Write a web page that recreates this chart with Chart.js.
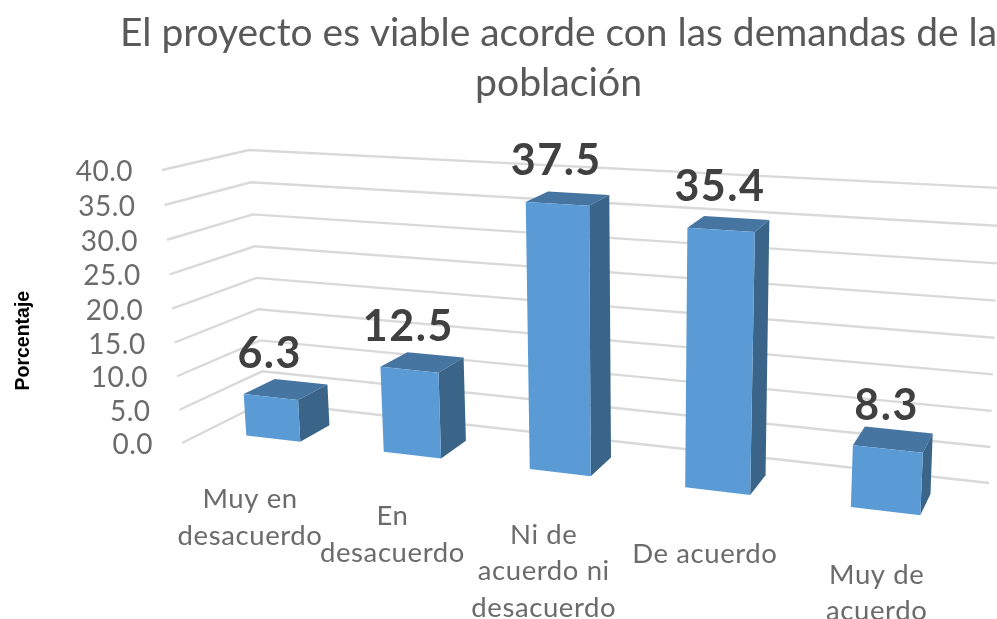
<!DOCTYPE html>
<html>
<head>
<meta charset="utf-8">
<title>Proyecto viable</title>
<script src="https://cdn.jsdelivr.net/npm/chart.js@4/dist/chart.umd.js"></script>
<style>
    html, body { margin: 0; padding: 0; background: #fff; }
    #wrap { width: 997px; height: 619px; overflow: hidden; }
</style>
</head>
<body>
<div id="wrap"><canvas id="chart" width="997" height="619"></canvas></div>
<script>
const categories = [
    ['Muy en', 'desacuerdo'],
    ['En', 'desacuerdo'],
    ['Ni de', 'acuerdo ni', 'desacuerdo'],
    ['De acuerdo'],
    ['Muy de', 'acuerdo']
];
const values = [6.3, 12.5, 37.5, 35.4, 8.3];
const titleLines = ['El proyecto es viable acorde con las demandas de la', 'población'];
const yTitle = 'Porcentaje';

// corners of the 3d box on screen: [front/back][left/right][floor/top]
const box = {
    fl0: [182, 443], fl1: [162, 170],
    bl0: [264, 402], bl1: [249, 150],
    fr0: [967, 538], fr1: [984, 220],
    br0: [989, 483], br1: [1000, 188]
};
const depthFront = 0.30;
const depthBack = 0.69;

function warp(t, k) {
    return t / (t + k * (1 - t));
}

function mix(a, b, t) {
    return [a[0] + (b[0] - a[0]) * t, a[1] + (b[1] - a[1]) * t];
}

// w, v, d all run 0..1: across the categories, up the value axis, into the depth
function project(w, v, d) {
    const u = warp(w, 1.17);
    const h = warp(v, 1.03);
    const front = mix(mix(box.fl0, box.fl1, h), mix(box.fr0, box.fr1, h), u);
    const back = mix(mix(box.bl0, box.bl1, h), mix(box.br0, box.br1, h), u);
    return mix(front, back, d);
}

function normX(chart, px) {
    const s = chart.scales.x;
    return (px - s.left) / s.width;
}

function normY(chart, px) {
    const s = chart.scales.y;
    return (s.bottom - px) / s.height;
}

function face(ctx, pts, color) {
    ctx.beginPath();
    pts.forEach((p, i) => i ? ctx.lineTo(p[0], p[1]) : ctx.moveTo(p[0], p[1]));
    ctx.closePath();
    ctx.fillStyle = color;
    ctx.fill();
}

// bars keep their place from the library's scales, only the painting is 3d
Chart.BarElement.prototype.draw = function (ctx) {
    const chart = this.$chart3d;
    if (!chart) return;
    const { x, y, base, width } = this.getProps(['x', 'y', 'base', 'width']);
    const w0 = normX(chart, x - width / 2);
    const w1 = normX(chart, x + width / 2);
    const v0 = normY(chart, base);
    const v1 = normY(chart, y);
    const d0 = depthFront;
    const d1 = depthBack;
    face(ctx, [project(w0, v1, d0), project(w1, v1, d0), project(w1, v1, d1), project(w0, v1, d1)], '#4675A1');
    face(ctx, [project(w1, v0, d0), project(w1, v1, d0), project(w1, v1, d1), project(w1, v0, d1)], '#3A6588');
    face(ctx, [project(w0, v0, d0), project(w1, v0, d0), project(w1, v1, d0), project(w0, v1, d0)], '#5B9BD5');
};

const perspective = {
    id: 'perspective',
    beforeDatasetsDraw(chart) {
        const ctx = chart.ctx;
        const yScale = chart.scales.y;
        const xScale = chart.scales.x;
        chart.getDatasetMeta(0).data.forEach(bar => { bar.$chart3d = chart; });

        ctx.save();
        // walls
        ctx.strokeStyle = '#D9D9D9';
        ctx.lineWidth = 2.4;
        yScale.ticks.forEach(tick => {
            const v = normY(chart, yScale.getPixelForValue(tick.value));
            const a = project(0, v, 0);
            const b = project(0, v, 1);
            const c = project(1, v, 1);
            ctx.beginPath();
            ctx.moveTo(a[0], a[1]);
            ctx.lineTo(b[0], b[1]);
            ctx.lineTo(c[0], c[1]);
            ctx.stroke();
        });

        // value axis labels follow the front edge of the left wall
        ctx.fillStyle = '#6B6B6B';
        ctx.font = '28px Lato';
        ctx.letterSpacing = '0.5px';
        ctx.textAlign = 'right';
        ctx.textBaseline = 'middle';
        yScale.ticks.forEach(tick => {
            const v = normY(chart, yScale.getPixelForValue(tick.value));
            const p = project(0, v, 0);
            ctx.fillText(tick.label, p[0] - 29, p[1] + 2);
        });

        // category labels hang under the front edge of the floor
        ctx.font = '27.5px Lato';
        ctx.letterSpacing = '0.6px';
        ctx.textAlign = 'center';
        categories.forEach((cat, i) => {
            const lines = xScale.getLabelForValue(i);
            const w = normX(chart, xScale.getPixelForValue(i));
            const p = project(w, 0, 0);
            lines.forEach((line, n) => {
                ctx.fillText(line, p[0], p[1] + 48 + n * 36.5);
            });
        });
        ctx.restore();
    },
    afterDatasetsDraw(chart) {
        const ctx = chart.ctx;
        ctx.save();
        ctx.fillStyle = '#404040';
        ctx.font = 'bold 43px Lato';
        ctx.letterSpacing = '1.5px';
        ctx.textAlign = 'center';
        ctx.textBaseline = 'middle';
        chart.getDatasetMeta(0).data.forEach((bar, i) => {
            const w = normX(chart, bar.x);
            const v = normY(chart, bar.y);
            const p = project(w, v, depthFront);
            ctx.fillText(values[i].toFixed(1), p[0] - 1, p[1] - 43);
        });
        ctx.restore();
    }
};

new Chart(document.getElementById('chart'), {
    type: 'bar',
    data: {
        labels: categories,
        datasets: [{
            label: yTitle,
            data: values,
            backgroundColor: '#5B9BD5',
            categoryPercentage: 1,
            barPercentage: 0.4
        }]
    },
    options: {
        responsive: false,
        animation: false,
        layout: { padding: { left: 12, top: 4, bottom: 48 } },
        plugins: {
            legend: { display: false },
            tooltip: { enabled: false },
            title: {
                display: true,
                fullSize: false,
                text: titleLines,
                color: '#595959',
                font: { family: 'Lato', size: 39.2, weight: 'normal', lineHeight: 1.28 },
                padding: { top: 4, bottom: 10 }
            }
        },
        scales: {
            x: {
                grid: { display: false },
                border: { display: false },
                ticks: { display: false }
            },
            y: {
                min: 0,
                max: 40,
                afterFit(scale) { scale.width = 108; },
                grid: { display: false },
                border: { display: false },
                ticks: { display: false, stepSize: 5, callback: v => v.toFixed(1) },
                title: {
                    display: true,
                    text: yTitle,
                    color: '#000',
                    font: { family: 'Liberation Sans', size: 19.5, weight: 'bold' },
                    padding: 0
                }
            }
        }
    },
    plugins: [perspective]
});
</script>
</body>
</html>
